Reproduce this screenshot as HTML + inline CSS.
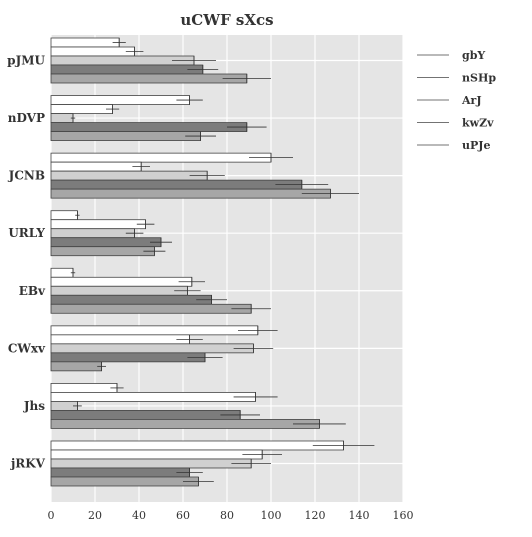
<!DOCTYPE html>
<html><head><meta charset="utf-8"><style>
body{margin:0;background:#fff;}
text{font-family:"DejaVu Serif","Liberation Serif",serif;fill:#333;}
</style></head><body>
<svg id="c" width="532" height="532"></svg>
<script>
const categories=["pJMU","nDVP","JCNB","URLY","EBv","CWxv","Jhs","jRKV"];
const seriesNames=["gbY","nSHp","ArJ","kwZv","uPJe"];
const s0=[31,63,100,12,10,94,30,133];
const s1=[38,28,41,43,64,63,93,96];
const s2=[65,10,71,38,62,92,12,91];
const s3=[69,89,114,50,73,70,86,63];
const s4=[89,68,127,47,91,23,122,67];
const e0=[3,6,10,1,1,9,3,14];
const e1=[4,3,4,4,6,6,10,9];
const e2=[10,1,8,4,6,9,2,9];
const e3=[7,9,12,5,7,8,9,6];
const e4=[11,7,13,5,9,2,12,7];
const ticks=[0,20,40,60,80,100,120,140,160];
const series=[s0,s1,s2,s3,s4], errs=[e0,e1,e2,e3,e4];
const colors=["#ffffff","#ffffff","#d0d0d0","#7c7c7c","#a6a6a6"];
const NS="http://www.w3.org/2000/svg", svg=document.getElementById('c');
function mk(t,a,p){const e=document.createElementNS(NS,t);for(const k in a)e.setAttribute(k,a[k]);(p||svg).appendChild(e);return e;}
const X0=51,X1=403,Y0=35,Y1=502;
const xs=v=>X0+(v/160)*(X1-X0);
const band=57.57, bh=9;
const yc=i=>60.5+i*band;
const bg=mk('rect',{x:X0,y:Y0,width:X1-X0,height:Y1-Y0,fill:'#e5e5e5'});


ticks.forEach(t=>{
  const l=mk('line',{x1:xs(t),x2:xs(t),y1:Y0,y2:Y1,stroke:'#fff','stroke-width':1.2});
  
  
  const tx=mk('text',{x:xs(t),y:519,'text-anchor':'middle','font-size':11});
  tx.textContent=t;
  
  
});
categories.forEach((c,i)=>{
  const gl=mk('line',{x1:X0,x2:X1,y1:yc(i),y2:yc(i),stroke:'#fff','stroke-width':1.2});
  
  
});
categories.forEach((c,i)=>{
  const tx=mk('text',{x:45,y:yc(i)+4,'text-anchor':'end','font-size':12,'font-weight':'bold'});
  tx.textContent=c;
  
  
  series.forEach((s,j)=>{
    const y=yc(i)-22.5+j*bh;
    const r=mk('rect',{x:X0,y:y,width:xs(s[i])-X0,height:bh,fill:colors[j],stroke:'#444','stroke-width':0.8});
    
    
    const ev=errs[j][i];
    const el=mk('line',{x1:xs(s[i]-ev),x2:xs(s[i]+ev),y1:y+bh/2,y2:y+bh/2,stroke:'#333','stroke-width':0.8});
    
    
    const ev2=mk('line',{x1:xs(s[i]),x2:xs(s[i]),y1:y,y2:y+bh,stroke:'#333','stroke-width':0.8});
    
    
  });
});
const title=mk('text',{x:227,y:25,'text-anchor':'middle','font-size':15,'font-weight':'bold'});
title.textContent="uCWF  sXcs";


seriesNames.forEach((n,j)=>{
  const y=55+j*22.5;
  const l=mk('line',{x1:417,x2:449,y1:y,y2:y,stroke:'#444','stroke-width':0.8});
  
  
  const t=mk('text',{x:462,y:y+4,'font-size':11,'font-weight':'bold'});
  t.textContent=n;
  
  
});
</script>
</body></html>
